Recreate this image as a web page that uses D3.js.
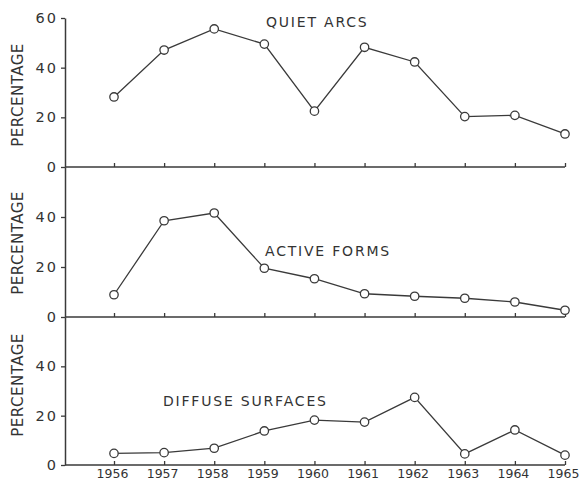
<!DOCTYPE html>
<html><head><meta charset="utf-8">
<script src="https://cdn.jsdelivr.net/npm/d3@7"></script>
<style>
html,body{margin:0;padding:0;background:#fff;}
svg{display:block;}
text{font-family:"DejaVu Sans",sans-serif;fill:#333;}
</style></head>
<body>
<svg id="chart" width="579" height="483"></svg>
<script>
const years = [1956,1957,1958,1959,1960,1961,1962,1963,1964,1965];
const quietArcs = [28.2,47.1,55.6,49.5,22.5,48.2,42.3,20.3,20.8,13.3];
const activeForms = [8.9,38.5,41.6,19.5,15.3,9.3,8.3,7.5,6.0,2.7];
const diffuseSurfaces = [4.7,5.0,6.8,13.8,18.2,17.4,27.4,4.5,14.2,4.0];
const panelTitles = ["QUIET ARCS","ACTIVE FORMS","DIFFUSE SURFACES"];
const yTicksTop = [0,20,40,60];
const yTicksLower = [0,20,40];
const yLabel = "PERCENTAGE";

const svg = d3.select("#chart");
const ink = "#3a3a3a";
const axisX0 = 65;
const x = d3.scaleLinear().domain([1956,1965]).range([114,565]);

const panels = [
  {data: quietArcs, top: 18, zero: 167, ticks: yTicksTop, title: panelTitles[0], tx: 266, ty: 27, labelY: 95},
  {data: activeForms, top: 167, zero: 317, ticks: yTicksLower, title: panelTitles[1], tx: 265, ty: 256, labelY: 243},
  {data: diffuseSurfaces, top: 317, zero: 465, ticks: yTicksLower, title: panelTitles[2], tx: 163, ty: 406, labelY: 385}
];

panels.forEach((p, i) => {
  const y = d3.scaleLinear().domain([0,60]).range([p.zero, p.top]);
  const g = svg.append("g");

  // y axis
  const ya = g.append("g").attr("transform", `translate(${axisX0},0)`)
    .call(d3.axisLeft(y).tickValues(p.ticks).tickSizeInner(4).tickSizeOuter(0).tickPadding(3).tickFormat(d3.format("d")));
  ya.select(".domain").attr("stroke", ink).attr("stroke-width", 1.5);
  ya.selectAll(".tick line").attr("stroke", ink).attr("stroke-width", 1.3);
  ya.selectAll(".tick text").attr("font-size", 14.5).attr("letter-spacing", 2).attr("fill", ink)
    .attr("font-family", "DejaVu Sans");
  if (i > 0) ya.selectAll(".tick").filter(d => d === 60).remove();

  // x axis at zero line
  const xa = g.append("g").attr("transform", `translate(0,${p.zero})`)
    .call(d3.axisBottom(x).tickValues(years).tickSizeInner(-4).tickSizeOuter(0).tickPadding(4)
      .tickFormat(i === 2 ? d3.format("d") : () => ""));
  xa.select(".domain").remove();
  xa.selectAll(".tick line").attr("stroke", ink).attr("stroke-width", 1.3);
  xa.selectAll(".tick text").attr("font-size", 12.5).attr("dx", -2).attr("fill", ink).attr("font-family", "DejaVu Sans");
  g.append("line").attr("x1", axisX0).attr("x2", x(1965)).attr("y1", p.zero).attr("y2", p.zero)
    .attr("stroke", ink).attr("stroke-width", 1.5);

  // y label
  g.append("text").attr("transform", `translate(23,${p.labelY}) rotate(-90)`)
    .attr("text-anchor", "middle").attr("font-size", 15).attr("letter-spacing", 0.5)
    .attr("fill", ink).text(yLabel);

  // title
  g.append("text").attr("x", p.tx).attr("y", p.ty).attr("font-size", 14)
    .attr("letter-spacing", 1.8).attr("fill", ink).text(p.title);

  // line
  const line = d3.line().x((d,j) => x(years[j])).y(d => y(d));
  g.append("path").datum(p.data).attr("d", line).attr("fill", "none")
    .attr("stroke", ink).attr("stroke-width", 1.3);
  g.selectAll("circle").data(p.data).join("circle")
    .attr("cx", (d,j) => x(years[j])).attr("cy", d => y(d)).attr("r", 4.2)
    .attr("fill", "#fff").attr("stroke", ink).attr("stroke-width", 1.3);
});
</script>
</body></html>
